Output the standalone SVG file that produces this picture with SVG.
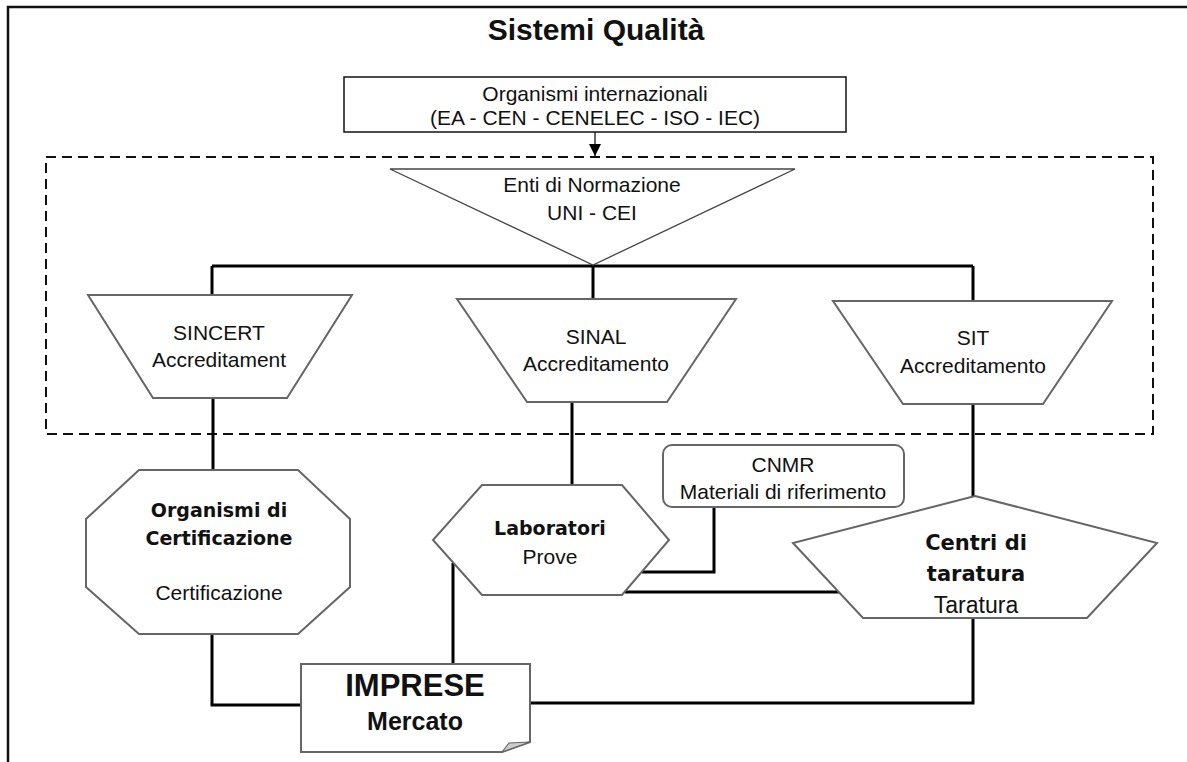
<svg xmlns="http://www.w3.org/2000/svg" width="1187" height="762" viewBox="0 0 1187 762">
<style>
.bg{fill:#fff}
.frame{fill:none;stroke:#111;stroke-width:2.5}
.shape{fill:#fff;stroke:#666;stroke-width:2}
.thin{fill:#fff;stroke:#444;stroke-width:1.3}
.box{fill:#fff;stroke:#111;stroke-width:1.5}
.dash{fill:none;stroke:#111;stroke-width:2;stroke-dasharray:10 6}
.conn{fill:none;stroke:#000;stroke-width:3}
.t{font-family:"Liberation Sans",Arial,sans-serif;font-size:21px;fill:#111;text-anchor:middle}
.tb{font-family:"DejaVu Sans",Verdana,sans-serif;font-weight:bold;font-size:19px;fill:#111;text-anchor:middle}
.title{font-family:"Liberation Sans",Arial,sans-serif;font-weight:bold;font-size:30px;fill:#111;text-anchor:middle}
</style>
<defs>
<marker id="arr" viewBox="0 0 10 10" refX="10" refY="5" markerWidth="12" markerHeight="12" markerUnits="userSpaceOnUse" orient="auto">
<path d="M0,0 L10,5 L0,10 Z" fill="#000"/>
</marker>
</defs>
<rect class="bg" x="0" y="0" width="1187" height="762"/>
<path class="frame" d="M8,762 V7 H1187"/>
<text class="title" x="596" y="40">Sistemi Qualità</text>
<rect class="dash" x="46" y="157" width="1107" height="277"/>

<g id="connectors">
<path d="M595,132 V156" fill="none" stroke="#000" stroke-width="1.2" marker-end="url(#arr)"/>
<path class="conn" d="M212,266 H973"/>
<path class="conn" d="M593,265 V299"/>
<path class="conn" d="M212,266 V295"/>
<path class="conn" d="M973,266 V301"/>
<path class="conn" d="M213,398 V470"/>
<path class="conn" d="M572,402 V485"/>
<path class="conn" d="M973,404 V496"/>
<path class="conn" d="M212,634 V705 H301"/>
<path class="conn" d="M453,563 V664"/>
<path class="conn" d="M530,703 H973 V618"/>
<path class="conn" d="M714,507 V572 H642"/>
<path class="conn" d="M625,592 H839"/>
</g>

<g id="organismi-internazionali">
<rect class="box" x="344" y="77" width="502" height="55"/>
<text class="t" x="595" y="101">Organismi internazionali</text>
<text class="t" x="595" y="125">(EA - CEN - CENELEC - ISO - IEC)</text>
</g>

<g id="enti-normazione">
<polygon class="thin" points="390,169 795,169 593,265"/>
<text class="t" x="592" y="192">Enti di Normazione</text>
<text class="t" x="592" y="220">UNI - CEI</text>
</g>

<g id="sincert">
<polygon class="shape" points="88,295 352,295 287,398 153,398"/>
<text class="t" x="219" y="340">SINCERT</text>
<text class="t" x="219" y="367">Accreditament</text>
</g>

<g id="sinal">
<polygon class="shape" points="457,299 736,299 667,402 527,402"/>
<text class="t" x="596" y="344">SINAL</text>
<text class="t" x="596" y="371">Accreditamento</text>
</g>

<g id="sit">
<polygon class="shape" points="833,301 1112,301 1043,404 903,404"/>
<text class="t" x="973" y="345">SIT</text>
<text class="t" x="973" y="373">Accreditamento</text>
</g>

<g id="organismi-certificazione">
<polygon class="shape" points="139,470 298,470 350,519 350,587 298,634 139,634 86,587 86,519"/>
<text class="tb" x="219" y="517">Organismi di</text>
<text class="tb" x="219" y="545">Certificazione</text>
<text class="t" x="219" y="600">Certificazione</text>
</g>

<g id="laboratori">
<polygon class="shape" points="482,485 622,485 669,540 622,595 482,595 433,540"/>
<text class="tb" x="550" y="535">Laboratori</text>
<text class="t" x="550" y="564">Prove</text>
</g>

<g id="cnmr">
<rect class="shape" x="663" y="445" width="241" height="62" rx="9"/>
<text class="t" x="783" y="472">CNMR</text>
<text class="t" x="783" y="499">Materiali di riferimento</text>
</g>

<g id="centri-taratura">
<polygon class="shape" points="975,496 1157,543 1087,618 863,618 793,543"/>
<text class="tb" x="976" y="550" style="font-size:21px">Centri di</text>
<text class="tb" x="976" y="581" style="font-size:21px">taratura</text>
<text class="t" x="976" y="613" style="font-size:23px">Taratura</text>
</g>

<g id="imprese">
<path class="shape" d="M301,664 H530 V742 L502,752 H301 Z"/>
<polygon points="502,752 509,743 530,742" fill="#ccc" stroke="#666" stroke-width="1.2"/>
<text class="title" x="415" y="696" style="font-size:31px">IMPRESE</text>
<text class="title" x="415" y="730" style="font-size:25px">Mercato</text>
</g>
</svg>
